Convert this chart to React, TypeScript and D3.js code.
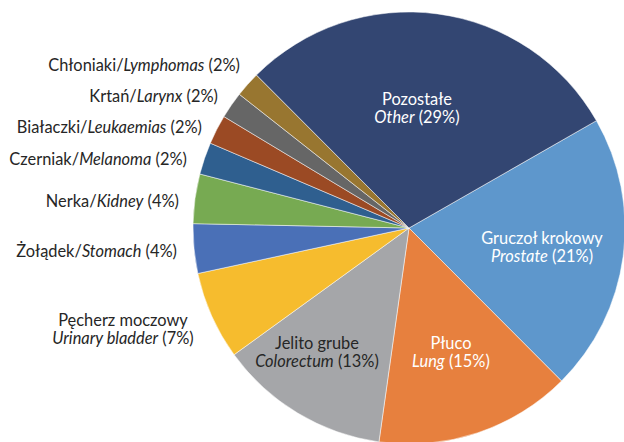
import React from "react";
import * as d3 from "d3";

const categoriesPl = ["Gruczoł krokowy", "Płuco", "Jelito grube", "Pęcherz moczowy", "Żołądek", "Nerka", "Czerniak", "Białaczki", "Krtań", "Chłoniaki", "Pozostałe"];
const categoriesEn = ["Prostate", "Lung", "Colorectum", "Urinary bladder", "Stomach", "Kidney", "Melanoma", "Leukaemias", "Larynx", "Lymphomas", "Other"];
const values = [20.8, 14.7, 12.8, 6.6, 3.7, 3.7, 2.4, 2.2, 2.0, 1.9, 29.2];
const percentLabels = ["21%", "15%", "13%", "7%", "4%", "4%", "2%", "2%", "2%", "2%", "29%"];
const colors = ["#5e97cc", "#e7803e", "#a5a6a9", "#f6bc2e", "#4a70b7", "#77aa52", "#2f5f8f", "#9b4a24", "#666666", "#987630", "#334672"];

const W = 624, H = 442;
const cx = 409, cy = 228, R = 216;
const startDeg = 60.2;

// label layout (positions), index matches data
type Lbl = { x: number; y: number; anchor: "start" | "middle" | "end"; two: boolean; fill: string };
const labelPos: Lbl[] = [
  { x: 542, y: 244, anchor: "middle", two: true, fill: "#ffffff" },
  { x: 451, y: 349, anchor: "middle", two: true, fill: "#ffffff" },
  { x: 317, y: 349, anchor: "middle", two: true, fill: "#262626" },
  { x: 123, y: 326, anchor: "middle", two: true, fill: "#262626" },
  { x: 177, y: 257, anchor: "end", two: false, fill: "#262626" },
  { x: 179, y: 207, anchor: "end", two: false, fill: "#262626" },
  { x: 187, y: 165, anchor: "end", two: false, fill: "#262626" },
  { x: 202, y: 133, anchor: "end", two: false, fill: "#262626" },
  { x: 218, y: 102, anchor: "end", two: false, fill: "#262626" },
  { x: 240, y: 71, anchor: "end", two: false, fill: "#262626" },
  { x: 417, y: 105, anchor: "middle", two: true, fill: "#ffffff" },
];

export default function App() {
  const pie = d3
    .pie<number>()
    .sort(null)
    .startAngle((startDeg * Math.PI) / 180)
    .endAngle((startDeg * Math.PI) / 180 + 2 * Math.PI)
    .value((d) => d);
  const arcs = pie(values);
  const arc = d3.arc<d3.PieArcDatum<number>>().innerRadius(0).outerRadius(R);

  return (
    <svg
      width={W}
      height={H}
      style={{ position: "absolute", left: 0, top: 0, background: "#fff" }}
      fontFamily="Lato, 'Open Sans', sans-serif"
      fontSize={16.4}
    >
      <g transform={`translate(${cx},${cy})`}>
        {arcs.map((a, i) => (
          <path key={i} d={arc(a) || ""} fill={colors[i]} stroke="#ffffff" strokeWidth={0.5} />
        ))}
      </g>
      {labelPos.map((l, i) =>
        l.two ? (
          <g key={i} fill={l.fill}>
            <text x={l.x} y={l.y} textAnchor={l.anchor}>{categoriesPl[i]}</text>
            <text x={l.x} y={l.y + 18} textAnchor={l.anchor}>
              <tspan fontStyle="italic">{categoriesEn[i]}</tspan>
              <tspan>{` (${percentLabels[i]})`}</tspan>
            </text>
          </g>
        ) : (
          <text key={i} x={l.x} y={l.y} textAnchor={l.anchor} fill={l.fill}>
            <tspan>{categoriesPl[i]}/</tspan>
            <tspan fontStyle="italic">{categoriesEn[i]}</tspan>
            <tspan>{` (${percentLabels[i]})`}</tspan>
          </text>
        )
      )}
    </svg>
  );
}
